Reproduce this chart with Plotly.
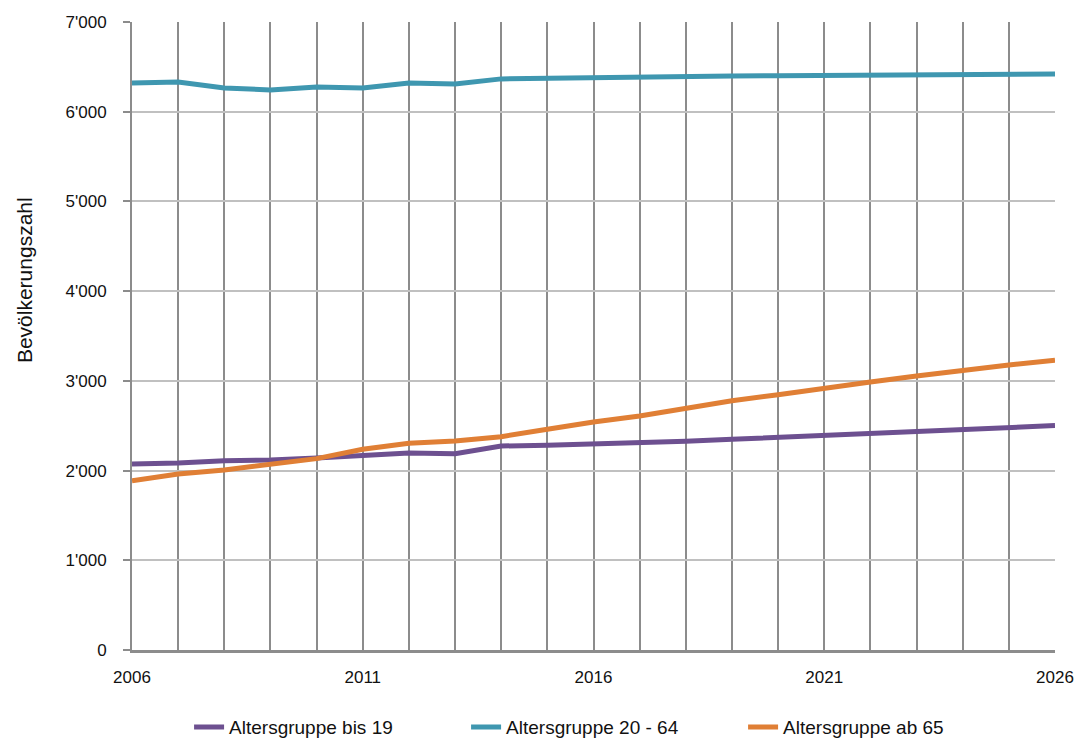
import plotly.graph_objects as go

years = list(range(2006, 2027))
bis19 = [2074, 2085, 2110, 2118, 2140, 2163, 2196, 2188, 2274, 2282, 2293,
         2304, 2326, 2349, 2371, 2400, 2423, 2441, 2464, 2483, 2501]
mitte = [6321, 6332, 6265, 6243, 6276, 6265, 6321, 6310, 6366, 6375, 6380,
         6390, 6395, 6398, 6402, 6405, 6408, 6412, 6414, 6418, 6421]
ab65 = [1887, 1962, 2007, 2077, 2133, 2237, 2304, 2330, 2378, 2460, 2542,
        2609, 2698, 2779, 2846, 2921, 2988, 3055, 3122, 3177, 3230]

names = ["Altersgruppe bis 19", "Altersgruppe 20 - 64", "Altersgruppe ab 65"]
colors = ["#6d5090", "#3f97b0", "#e07f35"]

y_ticks = [0, 1000, 2000, 3000, 4000, 5000, 6000, 7000]
y_labels = ["0", "1'000", "2'000", "3'000", "4'000", "5'000", "6'000", "7'000"]
x_ticks = [2006, 2011, 2016, 2021, 2026]
y_title = "Bevölkerungszahl"

fig = go.Figure()
for name, vals, c in zip(names, [bis19, mitte, ab65], colors):
    fig.add_trace(go.Scatter(x=years, y=vals, name=name, mode="lines",
                             line=dict(color=c, width=5)))

fig.update_layout(
    width=1079, height=739,
    paper_bgcolor="white", plot_bgcolor="white",
    margin=dict(l=132, r=24, t=22, b=89, autoexpand=False),
    font=dict(family="Liberation Sans, Arial, sans-serif", size=17, color="#111"),
    legend=dict(orientation="h", x=0.512, xanchor="center",
                yref="container", y=0.016, yanchor="middle",
                font=dict(size=19), entrywidth=232, entrywidthmode="pixels",
                itemwidth=30, tracegroupgap=0),
    showlegend=True,
    annotations=[dict(text=y_title, textangle=-90, showarrow=False,
                      xref="paper", x=0, xanchor="center", xshift=-108,
                      yref="paper", y=0.589, yanchor="middle",
                      font=dict(size=21, color="#111"))],
)
fig.update_xaxes(
    range=[2006, 2026], tickvals=x_ticks, ticktext=[str(v) for v in x_ticks],
    showgrid=True, gridcolor="#8c8c8c", gridwidth=2,
    minor=dict(dtick=1, showgrid=True, gridcolor="#8c8c8c", gridwidth=2),
    showline=True, linecolor="#8c8c8c", linewidth=3,
    ticks="", zeroline=False, ticklabelstandoff=10, automargin=False,
)
fig.update_yaxes(
    range=[0, 7000], tickvals=y_ticks, ticktext=y_labels,
    showgrid=True, gridcolor="#c0c0c0", gridwidth=2,
    showline=True, linecolor="#8c8c8c", linewidth=2,
    ticks="outside", ticklen=7, tickwidth=2, tickcolor="#8c8c8c",
    zeroline=False, ticklabelstandoff=13, automargin=False,
)
fig.write_html("out.html")
